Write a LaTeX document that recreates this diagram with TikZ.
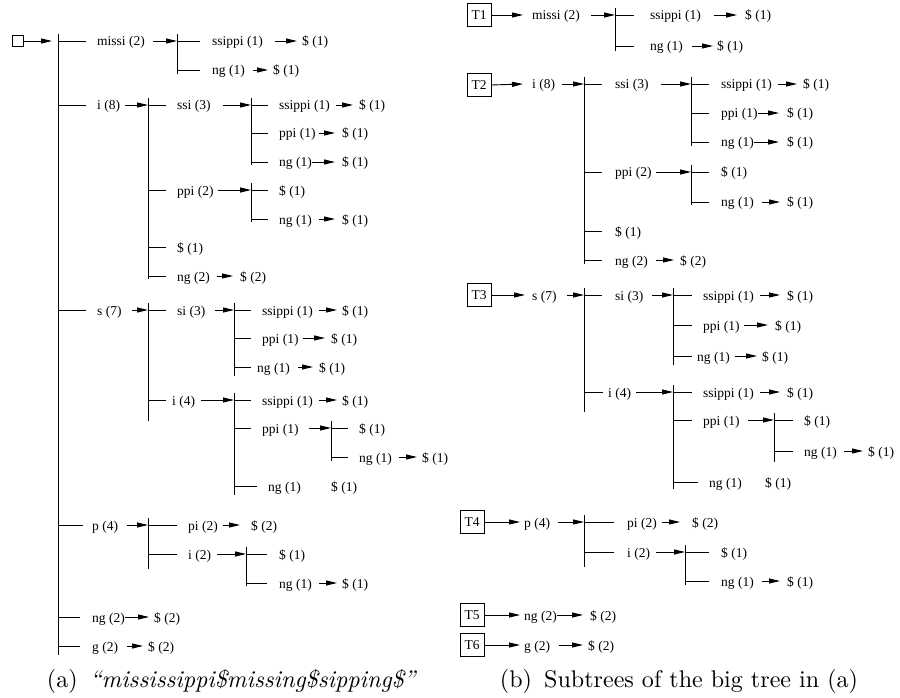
\documentclass[tikz,border=0pt]{standalone}
\usepackage{fontspec}
\usepackage{graphicx}
\usetikzlibrary{arrows.meta}
\newfontfamily\lbfont{Liberation Serif}
\newfontfamily\capfont{lmroman10-regular.otf}[ItalicFont=lmroman10-italic.otf]
\newcommand\Lbl[4]{\node[lbl] (#1) at (#2,#3) {#4};}
\newcommand\Ato[4][7]{\draw[arr] ([xshift=#4pt]#2.east) -- ([xshift=-#1pt]#3.west);}
\newcommand\Abar[3]{\draw[arr] ([xshift=#3pt]#1.east) -- (#2 |- #1.east);}
\newcommand\Brn[3]{\draw[ln] (#1 |- #2.west) -- ([xshift=-#3pt]#2.west);}
\newcommand\Vbar[4]{\coordinate (#1) at (#2,#3); \coordinate (#1e) at (#2,#4); \draw[ln] (#1) -- (#1e);}
\tikzset{
  lbl/.style={inner sep=0pt, text height=10pt, text depth=0pt, anchor=west, font=\lbfont\fontsize{13.5}{15}\selectfont},
  arr/.style={-{Triangle[length=11pt,width=5pt]}, line width=0.9pt},
  ln/.style={line width=0.9pt},
  tbox/.style={draw, line width=0.8pt, minimum width=24pt, minimum height=23pt, inner sep=0pt, font=\lbfont\fontsize{13.5}{15}\selectfont},
  sq/.style={draw, line width=0.8pt, minimum size=11pt, inner sep=0pt}
}
\begin{document}
\begin{tikzpicture}[x=1pt,y=-1pt]
\useasboundingbox (0,0) rectangle (900,698);
% ---------------- (a) big tree ----------------
\Vbar{b0}{58}{34}{655}
\node[sq] (root) at (17.5,41) {};
\coordinate (rootend) at (52,41);
\draw[arr] (root.east) -- (rootend);
\Lbl{L1}{97}{41}{missi (2)} \Brn{b0}{L1}{11}
\Lbl{L2}{97}{105}{i (8)} \Brn{b0}{L2}{11}
\Lbl{L3}{97}{310}{s (7)} \Brn{b0}{L3}{11}
\Lbl{L4}{92}{525}{p (4)} \Brn{b0}{L4}{9}
\Lbl{L5}{92}{617}{ng (2)} \Brn{b0}{L5}{12}
\Lbl{L6}{92}{646}{g (2)} \Brn{b0}{L6}{12}
% missi
\Vbar{b1}{177}{34}{74}
\Abar{L1}{b1}{8}
\Lbl{L11}{212}{41}{ssippi (1)} \Brn{b1}{L11}{12}
\Lbl{L11d}{302}{41}{\$ (1)} \Ato[5]{L11}{L11d}{12}
\Lbl{L12}{212}{70}{ng (1)} \Brn{b1}{L12}{12}
\Lbl{L12d}{273}{70}{\$ (1)} \Ato[5]{L12}{L12d}{8}
% i (8)
\Vbar{b2}{148}{98}{279}
\Abar{L2}{b2}{5}
\Lbl{L21}{177}{105}{ssi (3)} \Brn{b2}{L21}{11}
\Vbar{b21}{251}{98}{165}
\Abar{L21}{b21}{12}
\Lbl{L211}{279}{105}{ssippi (1)} \Brn{b21}{L211}{11}
\Lbl{L211d}{359}{105}{\$ (1)} \Ato[6]{L211}{L211d}{6}
\Lbl{L212}{279}{133}{ppi (1)} \Brn{b21}{L212}{11}
\Lbl{L212d}{342}{133}{\$ (1)} \Ato{L212}{L212d}{3}
\Lbl{L213}{279}{162}{ng (1)} \Brn{b21}{L213}{11}
\Lbl{L213d}{342}{162}{\$ (1)} \Ato{L213}{L213d}{0}
\Lbl{L22}{177}{190}{ppi (2)} \Brn{b2}{L22}{11}
\Vbar{b22}{251}{183}{222}
\Abar{L22}{b22}{4}
\Lbl{L221}{279}{190}{\$ (1)} \Brn{b22}{L221}{11}
\Lbl{L222}{279}{219}{ng (1)} \Brn{b22}{L222}{11}
\Lbl{L222d}{342}{219}{\$ (1)} \Ato{L222}{L222d}{7}
\Lbl{L23}{177}{247}{\$ (1)} \Brn{b2}{L23}{11}
\Lbl{L24}{177}{276}{ng (2)} \Brn{b2}{L24}{11}
\Lbl{L24d}{240}{276}{\$ (2)} \Ato{L24}{L24d}{7}
% s (7)
\Vbar{b3}{148}{303}{421}
\Abar{L3}{b3}{10}
\Lbl{L31}{177}{310}{si (3)} \Brn{b3}{L31}{11}
\Vbar{b31}{234}{303}{376}
\Abar{L31}{b31}{9}
\Lbl{L311}{262}{310}{ssippi (1)} \Brn{b31}{L311}{11}
\Lbl{L311d}{342}{310}{\$ (1)} \Ato[5]{L311}{L311d}{6}
\Lbl{L312}{262}{338}{ppi (1)} \Brn{b31}{L312}{11}
\Lbl{L312d}{331}{338}{\$ (1)} \Ato[6]{L312}{L312d}{4}
\Lbl{L313}{257}{367}{ng (1)} \Brn{b31}{L313}{6}
\Lbl{L313d}{319}{367}{\$ (1)} \Ato[6]{L313}{L313d}{8}
\Lbl{L32}{172}{400}{i (4)} \Brn{b3}{L32}{6}
\Vbar{b32}{234}{393}{495}
\Abar{L32}{b32}{6}
\Lbl{L321}{262}{400}{ssippi (1)} \Brn{b32}{L321}{11}
\Lbl{L321d}{342}{400}{\$ (1)} \Ato[5]{L321}{L321d}{6}
\Lbl{L322}{262}{428}{ppi (1)} \Brn{b32}{L322}{11}
\Vbar{b322}{331}{421}{461}
\Abar{L322}{b322}{10}
\Lbl{L3221}{359}{428}{\$ (1)} \Brn{b322}{L3221}{11}
\Lbl{L3222}{359}{457}{ng (1)} \Brn{b322}{L3222}{11}
\Lbl{L3222d}{422}{457}{\$ (1)} \Ato[5]{L3222}{L3222d}{7}
\Lbl{L323}{268}{486}{ng (1)} \Brn{b32}{L323}{11}
\Lbl{L323d}{331}{486}{\$ (1)}
% p (4)
\Vbar{b4}{148}{518}{569}
\Abar{L4}{b4}{9}
\Lbl{L41}{188}{525}{pi (2)} \Brn{b4}{L41}{11}
\Lbl{L41d}{251}{525}{\$ (2)} \Ato[11]{L41}{L41d}{5}
\Lbl{L42}{188}{554}{i (2)} \Brn{b4}{L42}{11}
\Vbar{b42}{246}{547}{586}
\Abar{L42}{b42}{6}
\Lbl{L421}{279}{554}{\$ (1)} \Brn{b42}{L421}{12}
\Lbl{L422}{279}{583}{ng (1)} \Brn{b42}{L422}{12}
\Lbl{L422d}{342}{583}{\$ (1)} \Ato[5]{L422}{L422d}{7}
% ng (2), g (2)
\Lbl{L5d}{154}{617}{\$ (2)} \Ato[5]{L5}{L5d}{0}
\Lbl{L6d}{148}{646}{\$ (2)} \Ato[5]{L6}{L6d}{9}
% ---------------- (b) subtrees ----------------
\node[tbox] (T1) at (479,15) {T1};
\node[tbox] (T2) at (479,85) {T2};
\node[tbox] (T3) at (479,295) {T3};
\node[tbox] (T4) at (472,522) {T4};
\node[tbox] (T5) at (472,615) {T5};
\node[tbox] (T6) at (472,645) {T6};
% T1
\Lbl{R1}{532}{15}{missi (2)} \draw[arr] (T1.east) -- ([xshift=-9pt]R1.west);
\Vbar{c1}{615}{8}{51}
\Abar{R1}{c1}{11}
\Lbl{R11}{650}{15}{ssippi (1)} \Brn{c1}{R11}{16}
\Lbl{R11d}{745}{15}{\$ (1)} \Ato[8]{R11}{R11d}{13}
\Lbl{R12}{650}{46}{ng (1)} \Brn{c1}{R12}{16}
\Lbl{R12d}{717}{46}{\$ (1)} \Ato[4]{R12}{R12d}{9}
% T2
\Lbl{R2}{532}{84}{i (8)} \draw[arr] (T2.east) -- ([xshift=-9pt]R2.west);
\Vbar{c2}{584}{77}{264}
\Abar{R2}{c2}{7}
\Lbl{R21}{615}{84}{ssi (3)} \Brn{c2}{R21}{13}
\Vbar{c21}{691}{77}{146}
\Abar{R21}{c21}{12}
\Lbl{R211}{721}{84}{ssippi (1)} \Brn{c21}{R211}{12}
\Lbl{R211d}{803}{84}{\$ (1)} \Ato[6]{R211}{R211d}{6}
\Lbl{R212}{721}{113}{ppi (1)} \Brn{c21}{R212}{12}
\Lbl{R212d}{787}{113}{\$ (1)} \Ato[8]{R212}{R212d}{0}
\Lbl{R213}{721}{142}{ng (1)} \Brn{c21}{R213}{12}
\Lbl{R213d}{787}{142}{\$ (1)} \Ato[8]{R213}{R213d}{0}
\Lbl{R22}{615}{172}{ppi (2)} \Brn{c2}{R22}{13}
\Vbar{c22}{691}{165}{205}
\Abar{R22}{c22}{4}
\Lbl{R221}{721}{172}{\$ (1)} \Brn{c22}{R221}{12}
\Lbl{R222}{721}{202}{ng (1)} \Brn{c22}{R222}{12}
\Lbl{R222d}{787}{202}{\$ (1)} \Ato{R222}{R222d}{8}
\Lbl{R23}{615}{231}{\$ (1)} \Brn{c2}{R23}{13}
\Lbl{R24}{615}{260}{ng (2)} \Brn{c2}{R24}{13}
\Lbl{R24d}{680}{260}{\$ (2)} \Ato[6]{R24}{R24d}{8}
% T3
\Lbl{R3}{532}{295}{s (7)} \draw[arr] (T3.east) -- ([xshift=-7pt]R3.west);
\Vbar{c3}{584}{288}{412}
\Abar{R3}{c3}{10}
\Lbl{R31}{615}{295}{si (3)} \Brn{c3}{R31}{13}
\Vbar{c31}{673}{288}{365}
\Abar{R31}{c31}{8}
\Lbl{R311}{703}{295}{ssippi (1)} \Brn{c31}{R311}{11}
\Lbl{R311d}{787}{295}{\$ (1)} \Ato{R311}{R311d}{6}
\Lbl{R312}{703}{325}{ppi (1)} \Brn{c31}{R312}{11}
\Lbl{R312d}{775}{325}{\$ (1)} \Ato{R312}{R312d}{4}
\Lbl{R313}{697}{356}{ng (1)} \Brn{c31}{R313}{5}
\Lbl{R313d}{762}{356}{\$ (1)} \Ato[5]{R313}{R313d}{5}
\Lbl{R32}{608}{392}{i (4)} \Brn{c3}{R32}{5}
\Vbar{c32}{673}{385}{489}
\Abar{R32}{c32}{5}
\Lbl{R321}{703}{392}{ssippi (1)} \Brn{c32}{R321}{11}
\Lbl{R321d}{787}{392}{\$ (1)} \Ato{R321}{R321d}{6}
\Lbl{R322}{703}{420}{ppi (1)} \Brn{c32}{R322}{11}
\Vbar{c322}{774}{413}{462}
\Abar{R322}{c322}{8}
\Lbl{R3221}{804}{420}{\$ (1)} \Brn{c322}{R3221}{11}
\Lbl{R3222}{804}{451}{ng (1)} \Brn{c322}{R3222}{11}
\Lbl{R3222d}{868}{451}{\$ (1)} \Ato[5]{R3222}{R3222d}{7}
\Lbl{R323}{709}{482}{ng (1)} \Brn{c32}{R323}{11}
\Lbl{R323d}{765}{482}{\$ (1)}
% T4
\Lbl{R4}{524}{522}{p (4)} \draw[arr] (T4.east) -- ([xshift=-4pt]R4.west);
\Vbar{c4}{584}{515}{567}
\Abar{R4}{c4}{8}
\Lbl{R41}{627}{522}{pi (2)} \Brn{c4}{R41}{13}
\Lbl{R41d}{692}{522}{\$ (2)} \Ato[12]{R41}{R41d}{5}
\Lbl{R42}{627}{552}{i (2)} \Brn{c4}{R42}{13}
\Vbar{c42}{685}{545}{585}
\Abar{R42}{c42}{6}
\Lbl{R421}{721}{552}{\$ (1)} \Brn{c42}{R421}{12}
\Lbl{R422}{721}{581}{ng (1)} \Brn{c42}{R422}{12}
\Lbl{R422d}{787}{581}{\$ (1)} \Ato{R422}{R422d}{8}
% T5, T6
\Lbl{R5}{524}{615}{ng (2)} \draw[arr] (T5.east) -- ([xshift=-4pt]R5.west);
\Lbl{R5d}{590}{615}{\$ (2)} \Ato{R5}{R5d}{0}
\Lbl{R6}{524}{645}{g (2)} \draw[arr] (T6.east) -- ([xshift=-4pt]R6.west);
\Lbl{R6d}{588}{645}{\$ (2)} \Ato[5]{R6}{R6d}{9}
% ---------------- captions ----------------
\node[inner sep=0pt] (capa) at (232,681) {\resizebox{370pt}{!}{\capfont (a)\enspace\textit{“mississippi\$missing\$sipping\$”}}};
\node[inner sep=0pt] (capb) at (679,681) {\resizebox{358pt}{!}{\capfont (b)\enspace Subtrees of the big tree in (a)}};
\end{tikzpicture}
\end{document}
